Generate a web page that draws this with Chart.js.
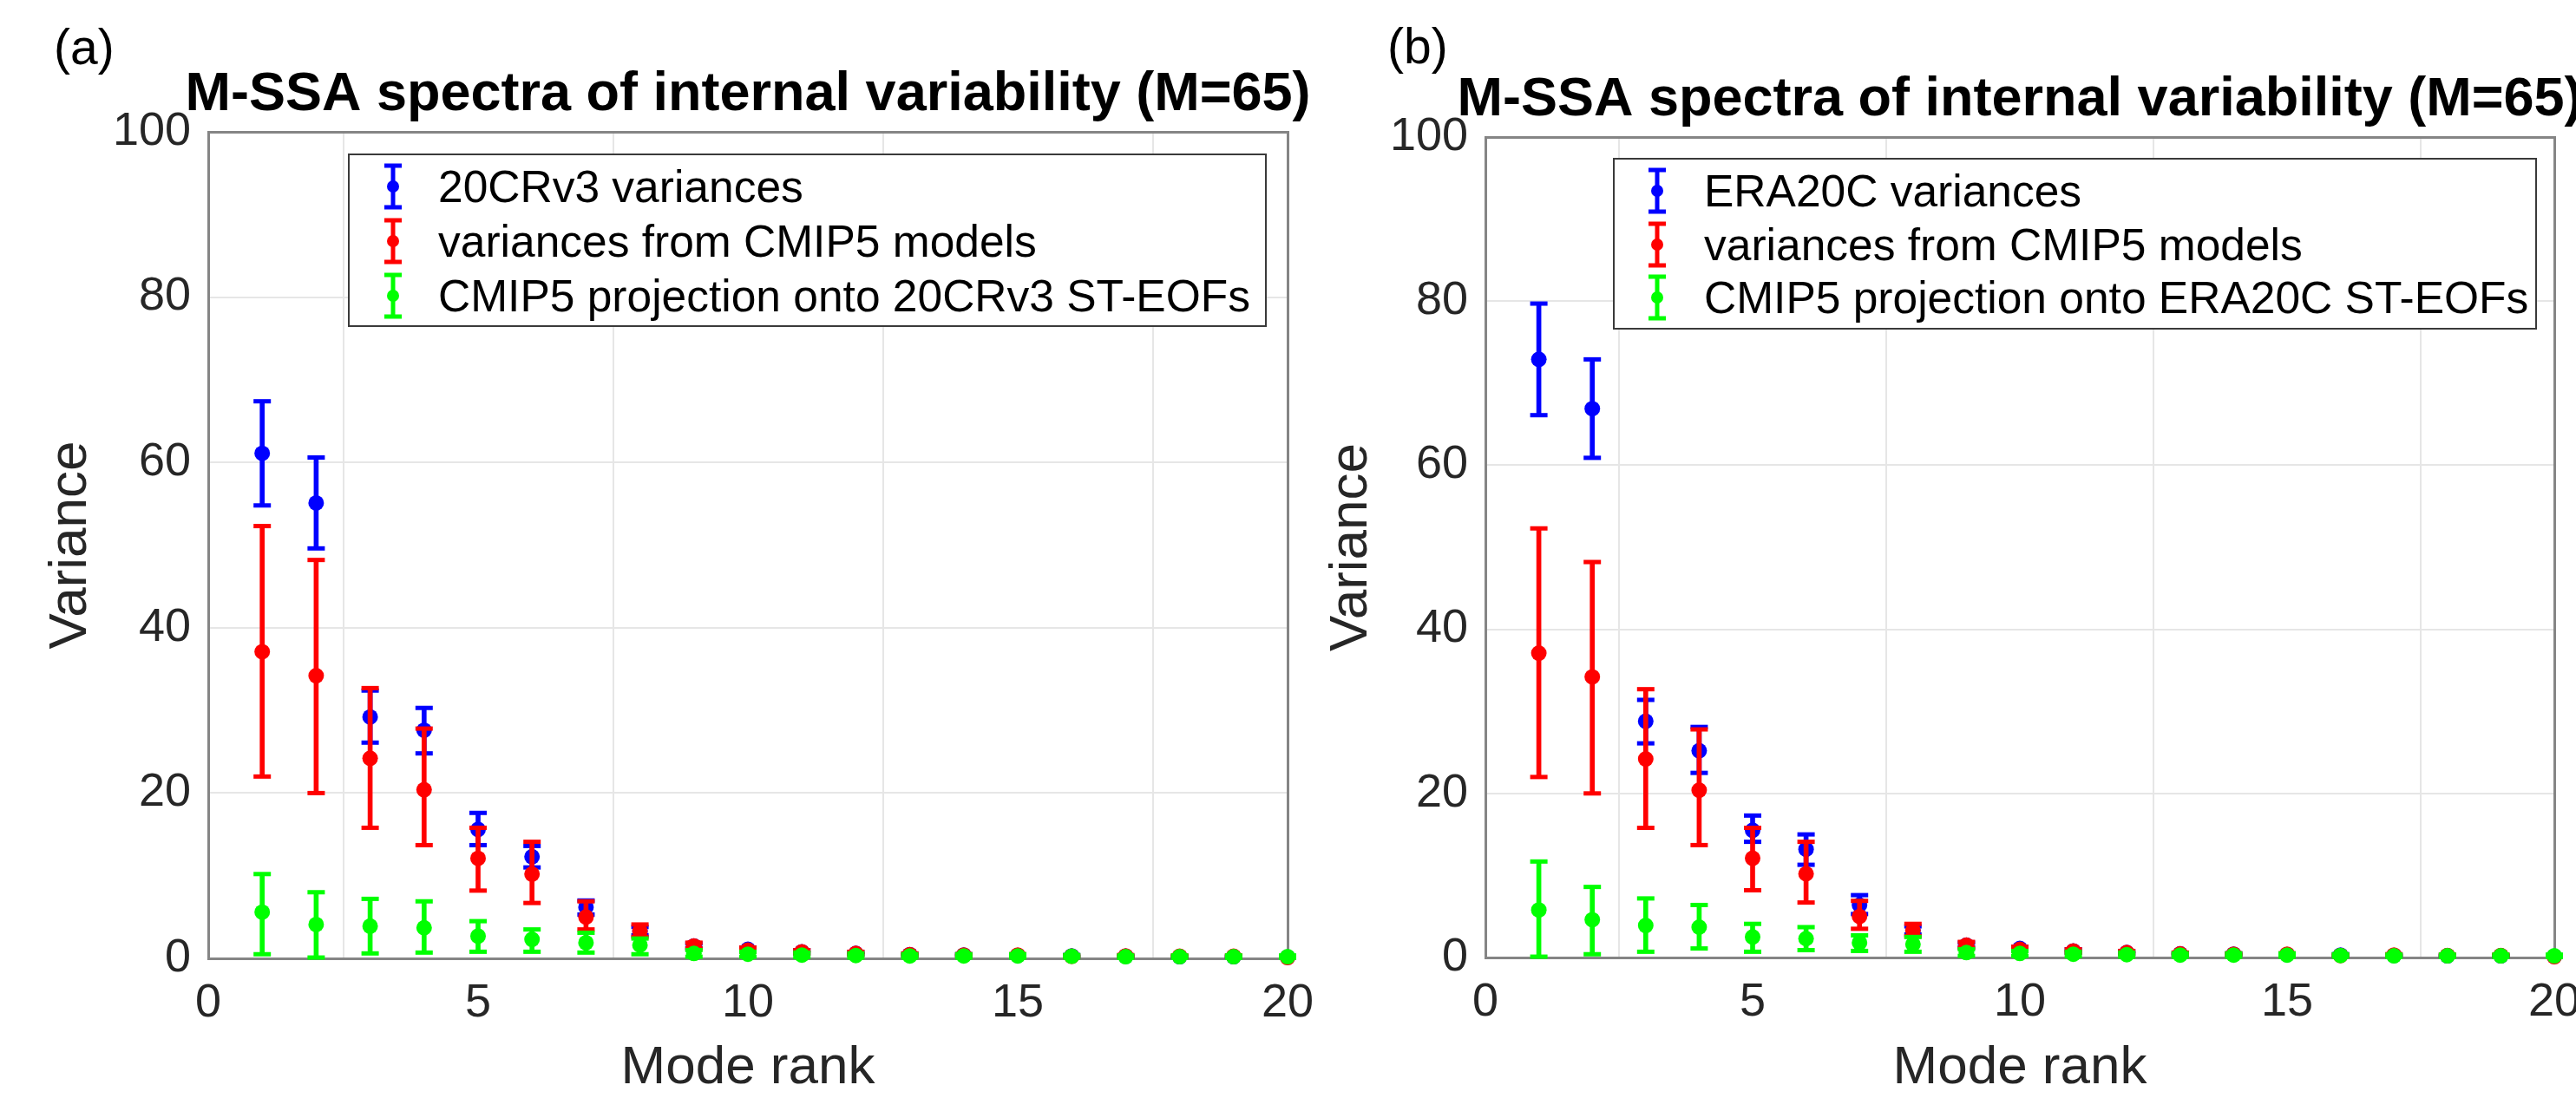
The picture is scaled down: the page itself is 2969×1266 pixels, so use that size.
<!DOCTYPE html>
<html><head><meta charset="utf-8">
<script src="https://cdn.jsdelivr.net/npm/chart.js@4.4.1/dist/chart.umd.min.js"></script>
<style>
html,body{margin:0;padding:0;background:#fff;overflow:hidden;width:2969px;height:1266px;}
#wrap{position:relative;width:2969px;height:1266px;overflow:hidden;background:#fff;}
canvas{position:absolute;top:0;}
.tag{position:absolute;font-family:'Liberation Sans',Arial,sans-serif;font-size:57px;line-height:57px;color:#000;}
.legend{position:absolute;background:#fff;border:2px solid #3a3a3a;box-sizing:border-box;font-family:'Liberation Sans',Arial,sans-serif;font-size:51.5px;color:#000;}
.legend .txt{position:absolute;height:60px;line-height:60px;white-space:nowrap;}
.legend svg{position:absolute;}
</style></head>
<body><div id="wrap">
<canvas id="cA" width="1724" height="1266" style="left:0;width:1724px;height:1266px"></canvas>
<canvas id="cB" width="1696" height="1266" style="left:1480px;width:1696px;height:1266px"></canvas>
<div class="tag" style="left:62px;top:26px">(a)</div>
<div class="tag" style="left:1599px;top:25px">(b)</div>
<div id="legA" class="legend" style="left:401px;top:177px;width:1059px;height:200px"></div>
<div id="legB" class="legend" style="left:1859px;top:182px;width:1065px;height:198px"></div>
</div>
<script>
// ---------- data ----------
const modeRank = [1,2,3,4,5,6,7,8,9,10,11,12,13,14,15,16,17,18,19,20];
const xTicks = [0,5,10,15,20];
const yTicks = [0,20,40,60,80,100];
const titleText = 'M-SSA spectra of internal variability (M=65)';
const xTitle = 'Mode rank';
const yTitle = 'Variance';
const legendA = ['20CRv3 variances','variances from CMIP5 models','CMIP5 projection onto 20CRv3 ST-EOFs'];
const legendB = ['ERA20C variances','variances from CMIP5 models','CMIP5 projection onto ERA20C ST-EOFs'];

// panel (a): 20CRv3
const cr20Mean = [61.1,55.1,29.2,27.6,15.6,12.3,6.2,3.3,1.5,1.1,0.8,0.6,0.45,0.4,0.35,0.3,0.25,0.2,0.2,0.15];
const cr20Lo   = [54.8,49.6,26.1,24.8,13.7,11.0,5.3,2.8,1.2,0.9,0.6,0.45,0.35,0.3,0.25,0.2,0.2,0.15,0.15,0.1];
const cr20Hi   = [67.4,60.6,32.4,30.3,17.6,13.6,7.0,3.8,1.8,1.3,1.0,0.75,0.55,0.5,0.45,0.4,0.3,0.25,0.25,0.2];
// panel (b): ERA20C
const eraMean = [72.9,66.9,28.8,25.2,15.5,13.2,6.4,3.3,1.5,1.1,0.8,0.6,0.45,0.4,0.35,0.3,0.25,0.2,0.2,0.15];
const eraLo   = [66.1,60.9,26.1,22.5,14.1,11.3,5.3,2.8,1.2,0.9,0.6,0.45,0.35,0.3,0.25,0.2,0.2,0.15,0.15,0.1];
const eraHi   = [79.7,72.9,31.4,28.1,17.3,15.0,7.6,3.8,1.8,1.3,1.0,0.75,0.55,0.5,0.45,0.4,0.3,0.25,0.25,0.2];
// CMIP5 model variances (both panels)
const cmipMean = [37.1,34.2,24.2,20.4,12.1,10.2,5.0,3.3,1.5,1.0,0.8,0.6,0.45,0.4,0.4,0.25,0.3,0.25,0.25,0.1];
const cmipLo   = [22.0,20.0,15.8,13.7,8.2,6.7,3.5,2.6,1.2,0.8,0.6,0.45,0.35,0.3,0.3,0.2,0.2,0.2,0.2,0.05];
const cmipHi   = [52.3,48.2,32.7,27.8,15.8,14.1,6.9,4.1,1.9,1.3,1.0,0.8,0.6,0.5,0.5,0.35,0.4,0.35,0.35,0.15];
// CMIP5 projection onto reanalysis ST-EOFs
const projAMean = [5.6,4.1,3.9,3.7,2.7,2.3,1.9,1.6,0.6,0.5,0.4,0.35,0.3,0.3,0.3,0.25,0.2,0.2,0.2,0.2];
const projALo   = [0.5,0.1,0.6,0.7,0.8,0.8,0.7,0.5,0.2,0.2,0.15,0.1,0.1,0.1,0.1,0.1,0.05,0.05,0.05,0.05];
const projAHi   = [10.2,8.0,7.2,6.9,4.5,3.5,3.1,2.4,1.0,0.8,0.7,0.6,0.5,0.5,0.5,0.4,0.35,0.35,0.35,0.35];
const projBMean = [5.8,4.6,3.9,3.7,2.5,2.3,1.8,1.6,0.6,0.5,0.4,0.35,0.3,0.3,0.3,0.25,0.2,0.2,0.2,0.2];
const projBLo   = [0.1,0.4,0.7,1.1,0.7,0.9,0.8,0.7,0.2,0.2,0.15,0.1,0.1,0.1,0.1,0.1,0.05,0.05,0.05,0.05];
const projBHi   = [11.7,8.6,7.2,6.4,4.1,3.7,2.7,2.5,1.0,0.8,0.7,0.6,0.5,0.5,0.5,0.4,0.35,0.35,0.35,0.35];

const BLUE = '#0000ff', RED = '#ff0000', GREEN = '#00ff00';
const FONT = "'Liberation Sans', Arial, Helvetica, sans-serif";

// ---------- build ----------
function series(label, color, mean, lo, hi, baseOrder) {
  const pts = arr => modeRank.map((m, i) => ({x: m, y: arr[i]}));
  const common = {xAxisID: 'x', yAxisID: 'y', clip: false};
  return [
    Object.assign({type: 'bar', label: label + ' range',
      data: modeRank.map((m, i) => ({x: m, y: [lo[i], hi[i]]})),
      backgroundColor: color, borderWidth: 0, barThickness: 5, grouped: false, order: baseOrder + 2}, common),
    Object.assign({type: 'scatter', label: label + ' lower', data: pts(lo),
      pointStyle: 'line', pointRadius: 10, pointBorderWidth: 5, pointBorderColor: color, order: baseOrder + 1}, common),
    Object.assign({type: 'scatter', label: label + ' upper', data: pts(hi),
      pointStyle: 'line', pointRadius: 10, pointBorderWidth: 5, pointBorderColor: color, order: baseOrder + 1}, common),
    Object.assign({type: 'scatter', label: label, data: pts(mean),
      pointStyle: 'circle', pointRadius: 9, pointBackgroundColor: color, pointBorderColor: color,
      pointBorderWidth: 0, order: baseOrder}, common)
  ];
}

function options(cfg) {
  const tickFont = {family: FONT, size: 54};
  const axisColor = '#858585';
  return {
    responsive: false, animation: false, devicePixelRatio: 1,
    layout: {padding: 0},
    plugins: {
      legend: {display: false},
      tooltip: {enabled: false},
      title: {display: true, text: titleText, fullSize: true, color: '#000',
        font: {family: FONT, size: 63, weight: 'bold', lineHeight: 1.2},
        padding: {top: cfg.titleTop, bottom: cfg.titleBottom}}
    },
    scales: {
      x: {type: 'linear', position: 'bottom', min: xTicks[0], max: xTicks[xTicks.length - 1], offset: false,
        afterBuildTicks: s => { s.ticks = xTicks.map(v => ({value: v})); },
        ticks: {font: tickFont, color: '#262626', padding: 20, maxRotation: 0, autoSkip: false},
        grid: {color: '#e6e6e6', lineWidth: 2, drawTicks: false},
        border: {color: axisColor, width: 3},
        title: {display: true, text: xTitle, color: '#262626', font: {family: FONT, size: 62, lineHeight: 1.2}, padding: {top: 0, bottom: -3}},
        afterFit: s => { s.height = cfg.xHeight; }},
      y: {type: 'linear', position: 'left', min: yTicks[0], max: yTicks[yTicks.length - 1],
        afterBuildTicks: s => { s.ticks = yTicks.map(v => ({value: v})); },
        ticks: {font: tickFont, color: '#262626', padding: 20},
        grid: {color: '#e6e6e6', lineWidth: 2, drawTicks: false},
        border: {color: axisColor, width: 3},
        title: {display: true, text: yTitle, color: '#262626', font: {family: FONT, size: 62, lineHeight: 1.2}, padding: {top: cfg.yTitlePad, bottom: 0}},
        afterFit: s => { s.width = cfg.yWidth; }},
      xTop: {type: 'linear', position: 'top', min: 0, max: 20,
        ticks: {display: false}, grid: {display: false, drawTicks: false},
        border: {color: axisColor, width: 3}, afterFit: s => { s.height = 0; }},
      yRight: {type: 'linear', position: 'right', min: 0, max: 100,
        ticks: {display: false}, grid: {display: false, drawTicks: false},
        border: {color: axisColor, width: 3}, afterFit: s => { s.width = cfg.yWidth; }}
    }
  };
}

function makeChart(id, labels, blue, proj, cfg) {
  const datasets = [].concat(
    series(labels[0], BLUE, blue[0], blue[1], blue[2], 20),
    series(labels[1], RED, cmipMean, cmipLo, cmipHi, 10),
    series(labels[2], GREEN, proj[0], proj[1], proj[2], 0)
  );
  return new Chart(document.getElementById(id), {type: 'scatter', data: {datasets}, options: options(cfg)});
}

makeChart('cA', legendA, [cr20Mean, cr20Lo, cr20Hi], [projAMean, projALo, projAHi],
  {titleTop: 72, titleBottom: 4.4, xHeight: 161, yWidth: 240, yTitlePad: 45});
makeChart('cB', legendB, [eraMean, eraLo, eraHi], [projBMean, projBLo, projBHi],
  {titleTop: 78, titleBottom: 4.4, xHeight: 162, yWidth: 232, yTitlePad: 41});

// ---------- legends ----------
function icon(color) {
  return '<svg width="30" height="60" viewBox="0 0 30 60">' +
    '<line x1="15" y1="6" x2="15" y2="54" stroke="' + color + '" stroke-width="5"/>' +
    '<line x1="5" y1="6" x2="25" y2="6" stroke="' + color + '" stroke-width="5"/>' +
    '<line x1="5" y1="54" x2="25" y2="54" stroke="' + color + '" stroke-width="5"/>' +
    '<circle cx="15" cy="30" r="7" fill="' + color + '"/></svg>';
}
function buildLegend(id, labels, rows, iconX, textX) {
  const el = document.getElementById(id);
  const colors = [BLUE, RED, GREEN];
  let html = '';
  labels.forEach((t, i) => {
    const c = rows[i] - 2;
    html += '<div style="position:absolute;left:' + (iconX - 17) + 'px;top:' + (c - 30) + 'px;width:30px;height:60px">' + icon(colors[i]) + '</div>';
    html += '<div class="txt" style="left:' + (textX - 2) + 'px;top:' + (c - 30) + 'px">' + t + '</div>';
  });
  el.innerHTML = html;
}
buildLegend('legA', legendA, [38, 101, 164], 52, 104);
buildLegend('legB', legendB, [38, 100, 161], 51, 105);
</script>
</body></html>
